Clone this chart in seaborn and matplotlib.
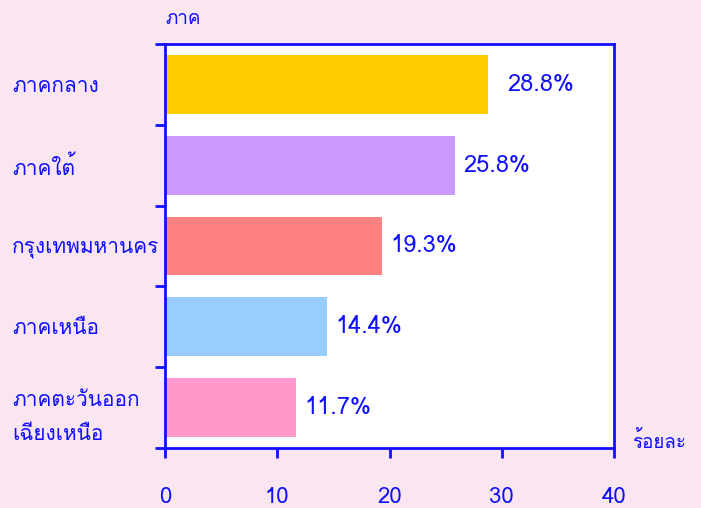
import matplotlib
matplotlib.use("Agg")
import matplotlib.pyplot as plt
from matplotlib import font_manager
from matplotlib.ft2font import FT2Font
import seaborn as sns

regions = ["ภาคกลาง", "ภาคใต้", "กรุงเทพมหานคร", "ภาคเหนือ", "ภาคตะวันออก\nเฉียงเหนือ"]
shares = [28.8, 25.8, 19.3, 14.4, 11.7]
bar_colors = ["#FFCC00", "#CC99FF", "#FF8080", "#99CCFF", "#FF99CC"]
x_ticks = [0, 10, 20, 30, 40]

blue = "#1010FF"
bg = "#F9E6F0"


# find an installed font that has Thai glyphs
def thai_font():
    names = []
    for f in font_manager.fontManager.ttflist:
        try:
            if 0x0E20 in FT2Font(f.fname).get_charmap():
                names.append(f.name)
        except Exception:
            pass
    for pref in ["Tahoma", "Loma", "Garuda", "Noto Sans Thai", "Noto Sans Thai UI", "Sarabun"]:
        if pref in names:
            return pref
    return names[0] if names else None


sns.set_style("white")
th = thai_font()
plt.rcParams["font.family"] = ([th] if th else []) + ["DejaVu Sans"]

fig = plt.figure(figsize=(7.01, 5.08), dpi=100, facecolor=bg)
ax = fig.add_axes([0.2354, 0.1181, 0.6405, 0.7953])
ax.set_facecolor("white")

sns.barplot(x=shares, y=regions, color=bar_colors[0], width=0.73, orient="h",
            saturation=1, ax=ax)
bars = ax.containers[0]
for bar, col in zip(bars, bar_colors):
    bar.set_facecolor(col)
    bar.set_edgecolor("none")

ax.set_xlim(0, 40)
ax.set_ylim(4.5, -0.5)

for s in ax.spines.values():
    s.set_visible(True)
    s.set_color(blue)
    s.set_linewidth(2)

ax.set_xticks(x_ticks)
ax.set_xticklabels([str(t) for t in x_ticks])
ax.tick_params(axis="x", direction="out", length=7, width=2, color=blue,
               labelcolor=blue, labelsize=16, pad=21, bottom=True)

# ticks between categories, labels at category centres
ax.set_yticks([i - 0.5 for i in range(len(regions) + 1)])
ax.set_yticklabels([""] * (len(regions) + 1))
ax.set_yticks(range(len(regions)), regions, minor=True)
ax.tick_params(axis="y", which="major", direction="out", length=7, width=2, color=blue, left=True)
ax.tick_params(axis="y", which="minor", length=0, pad=110, labelcolor=blue, labelsize=15)
for lab in ax.get_yticklabels(minor=True):
    lab.set_horizontalalignment("left")
    lab.set_linespacing(2.0)

# the top label sits a bit further from its bar than the rest
labels = [f"{v}%" for v in shares]
ax.bar_label(bars, labels=[labels[0]] + [""] * 4, padding=14, color=blue, fontsize=17)
ax.bar_label(bars, labels=[""] + labels[1:], padding=6, color=blue, fontsize=17)

ax.set_ylabel("ภาค", rotation=0, ha="left", va="bottom", color=blue, fontsize=13.5)
ax.yaxis.set_label_coords(0, 1.04)
ax.set_xlabel("ร้อยละ", ha="left", va="center", color=blue, fontsize=13.5)
ax.xaxis.set_label_coords(1.04, 0.017)

fig.savefig("out.png", dpi=100, facecolor=bg)
